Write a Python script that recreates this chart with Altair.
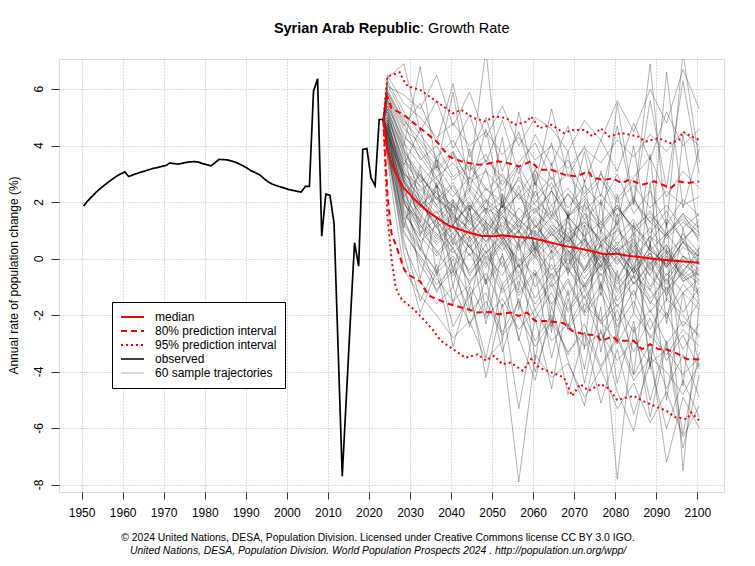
import pandas as pd
import altair as alt

FONT = "Liberation Sans"

# observed growth rate (%), 1950-2023
obs_years = list(range(1950, 2024))
obs_rate = [
    1.87, 2.05, 2.20, 2.35, 2.48, 2.60, 2.71, 2.82, 2.92, 3.00,
    3.08, 2.91, 2.97, 3.02, 3.07, 3.11, 3.16, 3.20, 3.23, 3.27,
    3.30, 3.39, 3.37, 3.35, 3.38, 3.41, 3.43, 3.44, 3.42, 3.37,
    3.33, 3.29, 3.40, 3.52, 3.51, 3.50, 3.46, 3.42, 3.35, 3.28,
    3.19, 3.10, 3.04, 2.96, 2.83, 2.72, 2.64, 2.59, 2.54, 2.50,
    2.45, 2.42, 2.39, 2.36, 2.56, 2.56, 5.93, 6.37, 0.80, 2.29,
    2.25, 1.27, -3.20, -7.69, -4.90, -2.10, 0.57, -0.26, 3.87, 3.90,
    2.87, 2.59, 4.93, 4.93,
]

# projection: median and prediction intervals
med_years = [2023, 2024, 2025, 2026, 2027, 2028, 2030, 2032, 2035, 2039, 2044, 2047, 2050,
             2052, 2055, 2059, 2062, 2067, 2072, 2077, 2080, 2082, 2085, 2090, 2095, 2100]
med_rate = [4.93, 3.90, 3.40, 3.05, 2.75, 2.50, 2.20, 1.90, 1.55, 1.17, 0.92, 0.81, 0.80,
            0.83, 0.78, 0.74, 0.64, 0.46, 0.33, 0.16, 0.18, 0.12, 0.07, -0.02, -0.08, -0.14]

up95_years = [2023, 2024, 2026, 2027, 2028, 2029, 2032, 2036, 2040, 2042, 2045, 2048, 2050,
              2053, 2055, 2058, 2059, 2061, 2064, 2067, 2069, 2072, 2074, 2076, 2078, 2081,
              2085, 2087, 2090, 2093, 2095, 2096, 2098, 2100]
up95_rate = [4.93, 6.45, 6.55, 6.60, 6.30, 6.10, 5.98, 5.56, 5.15, 5.27, 4.98, 4.86, 5.04,
             4.98, 4.74, 4.86, 5.04, 4.62, 4.74, 4.45, 4.56, 4.56, 4.33, 4.62, 4.33, 4.45,
             4.33, 4.15, 4.27, 4.09, 4.20, 4.50, 4.33, 4.21]

up80_years = [2023, 2024, 2025, 2028, 2032, 2036, 2039, 2042, 2046, 2048, 2051, 2053, 2056,
              2059, 2061, 2064, 2067, 2070, 2073, 2074, 2077, 2079, 2081, 2083, 2086, 2089,
              2091, 2093, 2095, 2097, 2100]
up80_rate = [4.93, 5.74, 5.33, 5.09, 4.62, 4.15, 3.62, 3.45, 3.33, 3.35, 3.45, 3.40, 3.27,
             3.45, 3.15, 3.15, 2.98, 2.92, 3.09, 2.86, 2.80, 2.85, 2.68, 2.80, 2.62, 2.74,
             2.62, 2.50, 2.74, 2.68, 2.74]

lo80_years = [2023, 2024, 2025, 2027, 2028, 2029, 2032, 2034, 2039, 2043, 2046, 2049, 2051,
              2054, 2056, 2058, 2060, 2063, 2067, 2069, 2072, 2075, 2076, 2079, 2080, 2084,
              2086, 2088, 2090, 2092, 2095, 2097, 2100]
lo80_rate = [4.93, 2.30, 0.90, 0.10, -0.35, -0.55, -0.80, -1.30, -1.60, -1.76, -1.90, -1.88, -1.96,
             -1.90, -2.02, -1.90, -2.20, -2.20, -2.28, -2.55, -2.67, -2.70, -2.90, -2.75, -2.90, -2.90,
             -3.20, -3.02, -3.20, -3.20, -3.38, -3.55, -3.55]

lo95_years = [2023, 2024, 2025, 2026, 2027, 2028, 2030, 2032, 2035, 2037, 2040, 2043, 2046,
              2048, 2050, 2052, 2054, 2057, 2059, 2061, 2064, 2067, 2069, 2071, 2073, 2076,
              2078, 2080, 2084, 2087, 2089, 2092, 2094, 2097, 2098, 2100]
lo95_rate = [4.93, 1.50, 0.00, -1.00, -1.35, -1.50, -1.73, -2.02, -2.50, -2.90, -3.20, -3.50, -3.38,
             -3.60, -3.43, -3.73, -3.67, -3.96, -3.55, -3.85, -4.02, -4.20, -4.85, -4.43, -4.67, -4.43,
             -4.60, -5.00, -4.85, -5.08, -5.20, -5.38, -5.60, -5.67, -5.43, -5.73]

# 60 sample trajectories, read every 4 years from 2024 to 2100
traj_years = list(range(2024, 2101, 4))
trajectories = [
    [5.1, 3.4, 2.8, 1.9, 2.6, 1.4, 2.1, 0.9, 1.8, 1.2, 0.4, 1.5, 0.8, -0.3, 1.1, 0.2, -0.6, 0.9, 0.1, -0.4],
    [4.2, 1.8, 0.6, 1.2, -0.3, 0.5, -0.8, 0.1, -1.2, -0.4, -1.6, -0.7, -1.9, -0.9, -2.2, -1.1, -2.5, -1.4, -2.0, -2.8],
    [5.8, 4.6, 4.1, 3.2, 3.8, 2.7, 3.1, 2.4, 3.3, 2.2, 2.9, 1.8, 2.6, 1.9, 3.0, 1.6, 2.4, 1.2, 2.1, 1.5],
    [4.6, 2.1, 1.2, 0.2, 0.9, -0.6, 0.3, -1.1, -0.2, -1.8, -0.9, -2.4, -1.3, -2.9, -1.8, -3.3, -2.1, -3.6, -2.7, -3.9],
    [4.9, 3.0, 2.4, 2.9, 1.6, 2.2, 1.0, 1.7, 2.3, 1.1, 1.9, 0.7, 1.4, 0.6, 1.2, -0.2, 0.8, 0.3, -0.5, 0.4],
    [3.9, 1.2, 0.3, -0.4, 0.4, -0.9, 0.1, -0.6, 0.5, -1.0, -0.2, -1.3, -0.4, 0.3, -1.1, -0.3, -1.6, -0.5, -1.2, -0.7],
    [6.3, 5.2, 4.4, 3.6, 4.2, 3.1, 3.7, 2.6, 3.4, 4.1, 2.8, 3.5, 2.3, 3.0, 2.1, 2.9, 3.6, 2.2, 3.1, 2.5],
    [4.4, 2.4, 1.6, 0.8, 1.5, 0.4, 1.1, -0.3, 0.6, 1.4, 0.2, 0.9, -0.4, 0.5, -0.7, 0.3, -1.0, 0.1, -0.6, -1.3],
    [5.3, 3.8, 3.0, 2.1, 2.7, 1.5, 0.8, 1.9, 1.1, 2.4, 1.3, 0.5, 1.6, 0.4, 1.3, 2.2, 0.9, 1.7, 0.6, 1.4],
    [4.0, 1.5, -0.2, -1.1, -0.4, -1.9, -1.2, -2.6, -1.5, -2.9, -2.0, -3.4, -2.3, -3.8, -2.7, -4.1, -3.0, -4.6, -3.4, -4.9],
    [4.7, 2.9, 2.2, 1.4, 2.0, 1.3, 0.6, 1.5, 0.9, 0.2, 1.1, 0.3, -0.4, 0.8, 0.0, -0.7, 0.5, -0.3, 0.6, -0.2],
    [5.6, 4.1, 3.3, 2.6, 1.8, 2.5, 1.7, 2.3, 1.4, 2.0, 2.7, 1.5, 2.1, 1.0, 1.8, 1.1, 0.6, 1.4, 0.7, 1.2],
    [4.3, 2.0, 1.1, 1.7, 0.5, 1.0, 0.0, 0.7, -0.5, 0.2, -0.8, 0.1, -1.1, -0.2, 0.4, -0.9, -0.1, -1.3, -0.4, -0.9],
    [6.0, 4.8, 3.5, 4.0, 2.9, 3.4, 2.5, 2.0, 2.8, 1.9, 1.4, 2.3, 1.6, 1.1, 1.9, 0.9, 1.5, 0.7, 1.3, 0.8],
    [3.6, 0.5, -0.8, -1.6, -1.0, -2.3, -1.5, -2.7, -2.0, -3.1, -2.2, -3.3, -2.6, -3.9, -2.8, -4.3, -3.5, -4.0, -4.8, -3.7],
    [4.8, 3.2, 1.9, 2.4, 1.3, 1.9, 1.2, 0.5, 1.0, 0.3, 0.9, 0.2, 0.7, -0.1, 0.5, -0.3, 0.2, -0.6, 0.1, -0.2],
    [5.0, 2.7, 2.0, 1.1, 1.6, 0.6, 1.3, 0.8, -0.1, 0.6, 0.0, 0.7, -0.5, 0.2, -0.8, 0.4, -0.6, -1.2, 0.0, -0.8],
    [4.1, 2.2, 3.0, 2.1, 1.7, 2.4, 1.6, 2.0, 1.3, 1.8, 0.9, 1.5, 0.8, 1.3, 0.5, 1.2, 0.3, 0.9, 1.6, 0.6],
    [5.4, 3.6, 2.5, 1.8, 1.1, 0.4, -0.3, 0.5, -0.6, 0.1, -1.0, -0.3, -1.4, -0.5, -1.7, -0.8, -1.5, -2.1, -1.2, -1.8],
    [4.5, 1.9, 1.4, 0.7, 1.2, 2.0, 0.9, 1.6, 0.4, 1.1, 1.7, 0.6, 1.2, 0.0, 0.8, 1.4, 0.3, -0.2, 0.9, 0.2],
    [6.5, 5.5, 5.0, 4.3, 4.8, 4.0, 4.5, 3.7, 4.3, 3.5, 4.0, 3.2, 3.9, 3.4, 4.2, 3.6, 4.4, 3.8, 4.5, 4.0],
    [3.8, 0.9, 0.1, -0.7, -1.5, -0.9, -2.1, -1.4, -2.5, -1.8, -2.9, -2.3, -3.1, -2.6, -3.6, -2.9, -3.7, -3.2, -4.1, -3.5],
    [4.9, 2.6, 1.7, 2.2, 1.4, 0.8, 1.6, 0.9, 0.3, 1.2, 0.5, -0.2, 0.6, -0.4, 0.3, -0.5, 0.1, -0.9, -0.2, -0.6],
    [5.2, 3.3, 2.3, 1.6, 2.1, 1.2, 1.8, 1.4, 0.7, 1.5, 0.8, 1.3, 0.4, 1.0, 0.3, 0.7, -0.2, 0.5, -0.4, 0.2],
    [4.4, 2.8, 1.5, 0.9, 0.2, 0.8, -0.1, 0.6, -0.3, 0.4, -0.6, 0.2, -0.9, -0.1, -1.2, -0.3, -1.4, -0.7, -1.9, -1.0],
    [5.7, 4.3, 3.8, 2.9, 3.4, 2.6, 2.0, 2.8, 2.2, 1.6, 2.4, 1.5, 2.2, 1.3, 1.9, 1.0, 1.7, 0.8, 1.5, 0.9],
    [4.1, 1.6, 0.8, 0.1, 0.7, -0.5, 0.2, 0.9, -0.3, 0.4, -0.7, 0.0, -1.0, -0.2, -1.5, -0.6, -1.1, -2.0, -0.9, -1.6],
    [4.7, 3.1, 2.1, 1.5, 0.9, 1.6, 1.1, 1.9, 1.4, 0.8, 1.5, 0.9, 1.3, 0.6, 1.0, 0.4, 1.1, 0.2, 0.7, 0.0],
    [5.5, 3.9, 2.7, 3.3, 2.4, 1.7, 2.5, 1.8, 2.9, 2.1, 1.5, 2.3, 1.4, 2.0, 1.2, 2.1, 1.3, 0.8, 1.6, 1.1],
    [3.7, 1.0, 0.0, -0.9, -0.3, -1.3, -0.5, -1.7, -0.8, -2.1, -1.2, -2.5, -1.6, -2.2, -3.0, -1.9, -2.7, -3.4, -2.5, -3.1],
    [4.6, 2.5, 1.8, 2.6, 1.5, 1.1, 0.5, 1.3, 0.7, 0.1, 0.9, 0.3, -0.3, 0.5, -0.1, 0.6, -0.4, 0.2, -0.7, -0.3],
    [5.9, 4.9, 4.2, 3.5, 2.8, 3.3, 2.4, 3.0, 2.1, 2.7, 1.9, 2.5, 1.7, 2.3, 1.5, 2.0, 1.3, 1.9, 1.1, 1.6],
    [4.3, 2.3, 1.3, 0.6, 1.2, 0.1, 0.9, 0.3, 1.0, 0.0, 0.6, -0.5, 0.4, -0.6, 0.1, -0.9, -0.2, 0.5, -0.8, -0.4],
    [5.0, 3.5, 2.9, 2.2, 1.6, 1.0, 1.8, 0.6, 1.3, 0.5, 1.2, 0.8, 0.1, 0.9, 0.2, -0.4, 0.4, -0.3, 0.6, -0.1],
    [4.2, 2.0, 0.9, 1.4, 0.3, -0.4, 0.5, -0.9, -0.2, -1.4, -0.5, -1.8, -0.9, -2.2, -1.3, -0.6, -1.9, -1.0, -2.4, -1.5],
    [6.2, 5.0, 3.9, 3.1, 3.7, 2.8, 3.5, 2.9, 2.3, 3.1, 2.5, 3.0, 2.2, 2.8, 2.0, 2.6, 1.8, 2.4, 1.9, 2.2],
    [4.8, 2.4, 1.2, 0.5, 1.1, 0.4, -0.2, 0.6, 0.0, -0.6, 0.3, -0.4, -1.0, 0.2, -0.6, -1.3, -0.3, -1.1, -0.5, -1.2],
    [5.3, 3.0, 2.6, 1.9, 1.2, 1.9, 1.3, 0.7, 1.4, 0.9, 0.4, 1.1, 0.5, -0.1, 0.6, 0.0, 0.8, -0.3, 0.4, 0.1],
    [4.0, 1.3, 0.4, -0.5, 0.1, -0.8, -0.1, -1.2, -0.6, -1.6, -0.8, -1.9, -1.1, -2.3, -1.6, -2.6, -1.8, -3.0, -2.2, -2.7],
    [4.6, 2.7, 1.9, 1.3, 0.7, 1.4, 0.6, 1.2, 0.5, 1.0, 0.3, 0.8, 0.0, 0.6, -0.2, 0.5, -0.3, 0.3, -0.6, 0.0],
    [5.8, 4.4, 3.6, 2.8, 2.2, 2.9, 2.1, 1.6, 2.3, 1.7, 2.4, 1.5, 1.9, 1.2, 1.8, 1.1, 1.6, 0.9, 1.4, 0.7],
    [4.5, 2.2, 1.0, 0.3, -0.6, 0.2, -0.9, -0.1, -1.3, -0.5, -1.7, -0.8, -2.0, -1.2, -2.4, -1.5, -2.8, -1.9, -3.2, -2.3],
    [5.1, 3.7, 2.9, 2.3, 1.9, 1.3, 2.0, 1.5, 1.0, 1.7, 1.1, 0.6, 1.3, 0.7, 0.2, 0.9, 0.3, -0.2, 0.6, 0.1],
    [3.9, 1.4, 2.0, 1.1, 0.4, 1.0, 0.2, 0.8, -0.2, 0.5, -0.4, 0.3, -0.7, 0.1, -0.9, -0.2, -1.1, 0.0, -0.8, -0.5],
    [4.9, 2.8, 2.0, 1.2, 1.9, 0.9, 1.5, 0.7, 1.2, 0.4, 1.0, 0.1, 0.7, -0.3, 0.4, -0.5, 0.2, -0.8, 0.1, -0.6],
    [5.6, 4.0, 6.8, 3.2, 5.9, 2.4, 4.6, 1.8, 5.2, 2.6, 4.1, 1.4, 3.8, 0.9, 5.5, 2.0, 6.9, 1.1, 7.3, 3.4],
    [4.1, 0.2, -1.9, -0.4, -3.1, -1.0, -4.2, -1.6, -5.3, -2.1, -4.6, -1.4, -3.9, -0.8, -4.4, -2.2, -5.6, -3.0, -6.7, -4.1],
    [6.4, 6.9, 4.5, 5.6, 3.9, 5.1, 3.4, 4.9, 3.0, 4.4, 3.3, 4.7, 2.7, 4.2, 3.1, 4.8, 3.5, 5.2, 4.0, 4.6],
    [4.7, 1.1, 3.3, -0.6, 2.1, -1.8, 1.4, -2.9, 0.7, -3.6, 0.3, -2.5, 1.2, -3.3, -0.4, -4.1, 0.6, -5.0, -1.2, -3.8],
    [5.2, 3.9, 0.8, 2.7, -0.5, 1.9, -2.0, 2.3, -1.1, 3.0, -2.4, 1.6, -3.2, 2.1, -2.7, 0.9, -3.9, 1.3, -4.5, 0.5],
    [3.5, -0.4, -1.3, -2.0, -2.8, -2.2, -3.6, -2.9, -7.9, -3.4, -4.2, -3.7, -4.9, -3.9, -5.3, -4.4, -5.8, -4.7, -6.3, -5.2],
    [6.1, 5.8, 5.3, 6.5, 4.7, 5.9, 4.3, 5.4, 4.0, 5.0, 4.6, 3.8, 4.9, 4.2, 5.6, 4.5, 6.0, 4.8, 6.7, 5.3],
    [4.4, 2.9, -0.7, 1.5, -1.6, 0.8, -2.3, 0.2, -2.9, -0.5, -3.5, -1.1, -4.4, -1.7, -7.8, -2.4, -5.0, -2.9, -6.2, -3.3],
    [5.0, 3.3, 4.6, 2.5, 3.8, 1.7, 3.2, 1.0, 2.6, 0.3, 3.4, -0.4, 2.8, -1.1, 2.3, -0.6, 3.7, -1.5, 4.4, 0.8],
    [4.3, 1.7, 0.6, -1.2, 0.0, -2.4, -0.7, -3.3, -1.4, -4.0, -2.1, -4.8, -2.6, -5.1, -3.2, -5.5, -3.7, -6.0, -4.3, -5.6],
    [5.9, 4.7, 5.5, 4.1, 6.2, 3.6, 5.0, 3.1, 4.5, 2.6, 5.3, 2.9, 4.0, 2.2, 4.7, 1.9, 5.6, 2.5, 6.3, 3.0],
    [4.8, 2.1, 0.3, 2.6, -1.0, 1.8, -0.9, 2.2, -1.8, 1.0, -2.6, 1.7, -1.9, 0.6, -3.0, 1.3, -3.8, 0.4, -7.5, -1.6],
    [5.4, 4.2, 2.0, 3.6, 1.1, 3.9, 1.6, 4.3, 0.9, 3.2, 1.5, 3.8, 0.6, 3.1, 1.2, 4.0, 0.4, 6.6, 1.8, 3.9],
    [3.8, 0.7, -1.5, -0.2, -2.4, -1.3, -3.5, -0.9, -2.8, -4.3, -1.7, -3.6, -5.2, -2.5, -4.7, -6.1, -3.2, -7.2, -4.9, -6.0],
    [4.5, 3.0, 1.3, 3.5, 0.5, 2.9, 7.4, 1.8, 3.3, 0.2, 2.5, -0.6, 2.0, -1.3, 1.6, -1.9, 2.7, -2.3, 1.1, -1.5],
]

x_ticks = list(range(1950, 2101, 10))
y_ticks = [-8, -6, -4, -2, 0, 2, 4, 6]

LABELS = ["median", "80% prediction interval", "95% prediction interval",
          "observed", "60 sample trajectories"]


def piece(series, line_id, years, values):
    # values are plotted at mid-year
    return pd.DataFrame({"series": series, "line": line_id,
                         "t": [y + 0.5 for y in years], "v": values})


main = pd.concat([
    piece(LABELS[2], "up95", up95_years, up95_rate),
    piece(LABELS[2], "lo95", lo95_years, lo95_rate),
    piece(LABELS[1], "up80", up80_years, up80_rate),
    piece(LABELS[1], "lo80", lo80_years, lo80_rate),
    piece(LABELS[0], "med", med_years, med_rate),
    piece(LABELS[3], "obs", obs_years, obs_rate),
], ignore_index=True)

traj = pd.concat([
    piece(LABELS[4], f"traj{i}", [obs_years[-1]] + traj_years, [obs_rate[-1]] + vals)
    for i, vals in enumerate(trajectories)
], ignore_index=True)

legend = alt.Legend(
    title=None, orient="none", legendX=53, legendY=243,
    strokeColor="black", fillColor="white", padding=8,
    symbolType="stroke", symbolSize=529, rowPadding=0, clipHeight=14,
    labelFont=FONT, labelFontSize=12, labelColor="black", labelOffset=10,
)

x_enc = alt.X("t:Q", scale=alt.Scale(domain=[1944.5, 2106.5], nice=False, zero=False),
              axis=alt.Axis(values=x_ticks, format="d", title=None, grid=True,
                            gridDash=[1, 2], gridColor="#b8b8b8", domain=False,
                            tickSize=7, tickColor="#333", labelPadding=8,
                            labelFont=FONT, labelFontSize=12, labelColor="black"))
y_enc = alt.Y("v:Q", scale=alt.Scale(domain=[-8.25, 7.07], nice=False, zero=False),
              axis=alt.Axis(values=y_ticks, labels=False, title=None, grid=True,
                            gridDash=[1, 2], gridColor="#b8b8b8", domain=False,
                            tickSize=8, tickColor="#333"))

enc = dict(
    x=x_enc,
    y=y_enc,
    color=alt.Color("series:N", legend=legend,
                    scale=alt.Scale(domain=LABELS, range=["red", "red", "red", "black", "#222222"])),
    strokeDash=alt.StrokeDash("series:N", legend=legend,
                              scale=alt.Scale(domain=LABELS, range=[[1, 0], [6, 4], [2, 3], [1, 0], [1, 0]])),
    opacity=alt.Opacity("series:N", legend=legend,
                        scale=alt.Scale(type="ordinal", domain=LABELS, range=[1, 1, 1, 1, 0.45])),
    strokeWidth=alt.StrokeWidth("series:N", legend=legend,
                                scale=alt.Scale(type="ordinal", domain=LABELS, range=[2, 2, 2, 1.7, 0.8])),
    detail="line:N",
)

traj_layer = alt.Chart(traj).mark_line(clip=True).encode(**enc)
main_layer = alt.Chart(main).mark_line(clip=True).encode(**enc)

# rotated y tick labels, placed through the y scale
y_labels = alt.Chart(pd.DataFrame({"v": y_ticks, "lbl": [str(v) for v in y_ticks]})).mark_text(
    font=FONT, fontSize=12, angle=270, align="center", baseline="bottom", color="black"
).encode(x=alt.value(-13), y=y_enc, text="lbl:N")

y_title = alt.Chart(pd.DataFrame({"txt": ["Annual rate of population change (%)"]})).mark_text(
    font=FONT, fontSize=12, angle=270, align="center", baseline="bottom", color="black"
).encode(x=alt.value(-38), y=alt.value(216.5), text="txt:N")

title_bold = alt.Chart(pd.DataFrame({"txt": ["Syrian Arab Republic"]})).mark_text(
    font=FONT, fontSize=14.5, fontWeight="bold", align="right", baseline="middle", color="black"
).encode(x=alt.value(361), y=alt.value(-30), text="txt:N")

title_rest = alt.Chart(pd.DataFrame({"txt": [": Growth Rate"]})).mark_text(
    font=FONT, fontSize=14.5, align="left", baseline="middle", color="black"
).encode(x=alt.value(361), y=alt.value(-30), text="txt:N")

foot1 = alt.Chart(pd.DataFrame({"txt": [
    "\u00a9 2024 United Nations, DESA, Population Division. Licensed under Creative Commons license CC BY 3.0 IGO."
]})).mark_text(font=FONT, fontSize=10.4, align="center", baseline="middle", color="black").encode(
    x=alt.value(319), y=alt.value(479), text="txt:N")

foot2 = alt.Chart(pd.DataFrame({"txt": [
    "United Nations, DESA, Population Division. World Population Prospects 2024 . http://population.un.org/wpp/"
]})).mark_text(font=FONT, fontSize=10.4, fontStyle="italic", align="center", baseline="middle",
               color="black").encode(x=alt.value(319), y=alt.value(492), text="txt:N")

chart = (
    alt.layer(traj_layer, main_layer, y_labels, y_title, title_bold, title_rest, foot1, foot2)
    .properties(width=665, height=433, autosize="none",
                padding={"left": 51, "top": 51, "right": 23, "bottom": 66})
    .configure_view(stroke="#333", strokeWidth=1)
    .configure(background="white")
)

chart.save("out.html", embed_options={"renderer": "svg", "actions": False})
